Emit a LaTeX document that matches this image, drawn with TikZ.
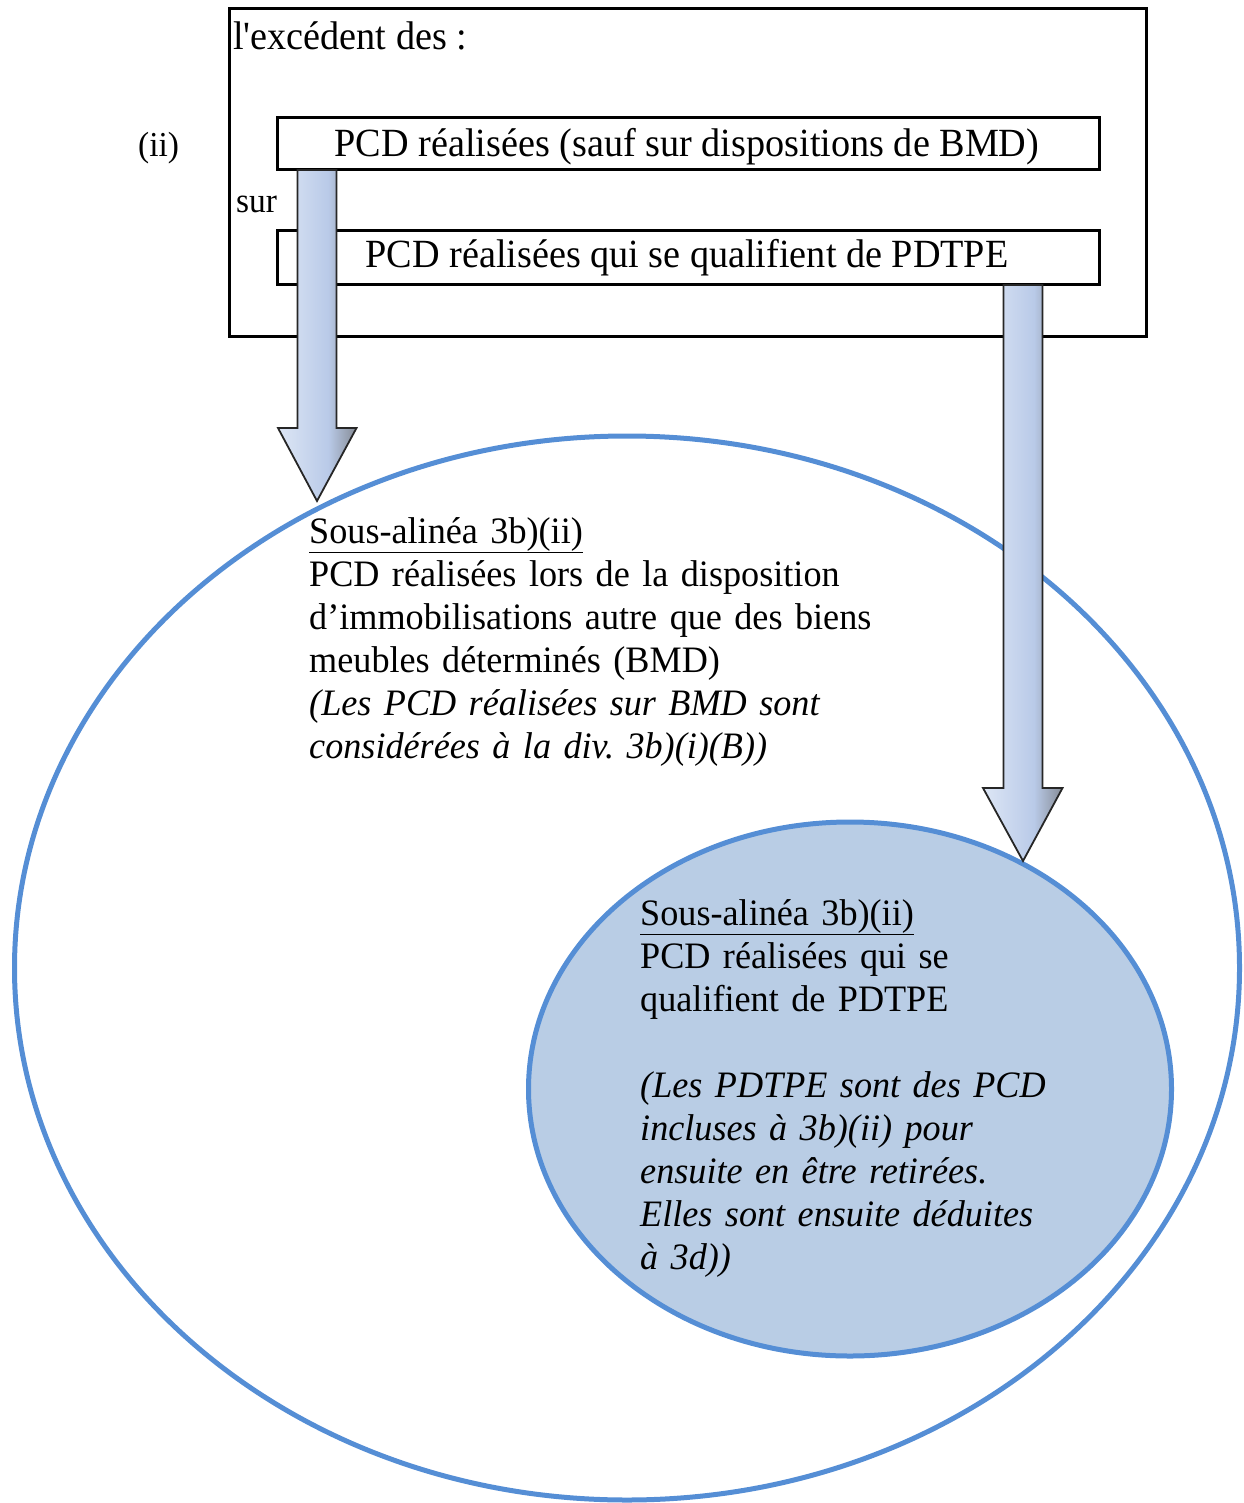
\documentclass[tikz,border=0pt]{standalone}
\usepackage{fontspec}
\setmainfont{Liberation Serif}
\newfontfamily\ellfont[FakeStretch=0.97]{Liberation Serif}
\definecolor{ellblue}{HTML}{558ED5}
\definecolor{ellfill}{HTML}{B9CDE5}
\definecolor{arrA}{HTML}{DDE6F5}
\definecolor{arrB}{HTML}{B9CAE8}
\definecolor{arrC}{HTML}{868C96}
\pgfdeclarehorizontalshading{arrowshade}{100bp}{color(0bp)=(arrA); color(25bp)=(arrA); color(57bp)=(arrB); color(75bp)=(arrC); color(100bp)=(arrC)}
\newcommand{\bigtxt}{\fontsize{40}{46}\selectfont}
\newcommand{\midtxt}{\fontsize{35}{40}\selectfont}
\newcommand{\elltxt}{\ellfont\fontsize{37.3}{43}\selectfont\frenchspacing}
\newcommand{\cond}[1]{\scalebox{0.955}[1]{#1}}
\begin{document}
\begin{tikzpicture}[x=1pt,y=-1pt,
  frame/.style={draw=black, line width=3pt},
  blockarrow/.style={draw=black!85, line width=1.8pt, line join=miter, shading=arrowshade},
  bigell/.style={draw=ellblue, line width=5pt},
  smallell/.style={draw=ellblue, line width=5pt, fill=ellfill},
  label/.style={inner sep=0pt, anchor=base west},
  ctrlabel/.style={inner sep=0pt, anchor=base},
  ellblock/.style={inner sep=0pt, anchor=base west, align=left, text width=640pt, font=\elltxt}]
\useasboundingbox (0,0) rectangle (1243,1503);
% ellipses
\draw[bigell] (627,968) ellipse [x radius=612.5, y radius=532];
\draw[smallell] (850,1089) ellipse [x radius=321.5, y radius=267];
% outer frame and boxes
\draw[frame] (229,9) rectangle (1146,336);
\node[draw=black, line width=3pt, minimum width=822pt, minimum height=52pt, inner sep=0pt, anchor=north west] (box1) at (276,116) {};
\node[draw=black, line width=3pt, minimum width=822pt, minimum height=54pt, inner sep=0pt, anchor=north west] (box2) at (276,229) {};
\node[label, font=\bigtxt] (exc) at (233,50) {\cond{l\textquotesingle exc\'edent des :}};
\node[label, font=\midtxt] (ii) at (138,157) {\cond{(ii)}};
\node[label, font=\midtxt] (sur) at (236,213) {\cond{sur}};
\node[ctrlabel, font=\bigtxt] (t1) at (687,157) {\cond{PCD réalisées (sauf sur dispositions de BMD)}};
\node[ctrlabel, font=\bigtxt] (t2) at (687,268) {\cond{PCD réalisées qui se qualifient de PDTPE}};
% block arrows
\coordinate (la) at (317,170);
\coordinate (ra) at (1023,285);
\draw[blockarrow] ([xshift=-19.5pt]la) -- ([xshift=19.5pt]la) -- ++(0,258) -- ++(20,0) -- (317,501) -- (278,428) -- (297.5,428) -- cycle;
\draw[blockarrow] ([xshift=-19.5pt]ra) -- ([xshift=19.5pt]ra) -- ++(0,503) -- ++(20,0) -- (1023,861) -- (983,788) -- (1003.5,788) -- cycle;
% ellipse texts
\node[ellblock] (e1) at (309,543) {\underline{Sous-alinéa 3b)(ii)}\\
PCD réalisées lors de la disposition\\
d’immobilisations autre que des biens\\
meubles déterminés (BMD)\\
\textit{(Les PCD réalisées sur BMD sont}\\
\textit{considérées à la div. 3b)(i)(B))}};
\node[ellblock] (e2) at (640,925) {\underline{Sous-alinéa 3b)(ii)}\\
PCD réalisées qui se\\
qualifient de PDTPE\\
\mbox{}\\
\textit{(Les PDTPE sont des PCD}\\
\textit{incluses à 3b)(ii) pour}\\
\textit{ensuite en être retirées.}\\
\textit{Elles sont ensuite déduites}\\
\textit{à 3d))}};
\end{tikzpicture}
\end{document}
